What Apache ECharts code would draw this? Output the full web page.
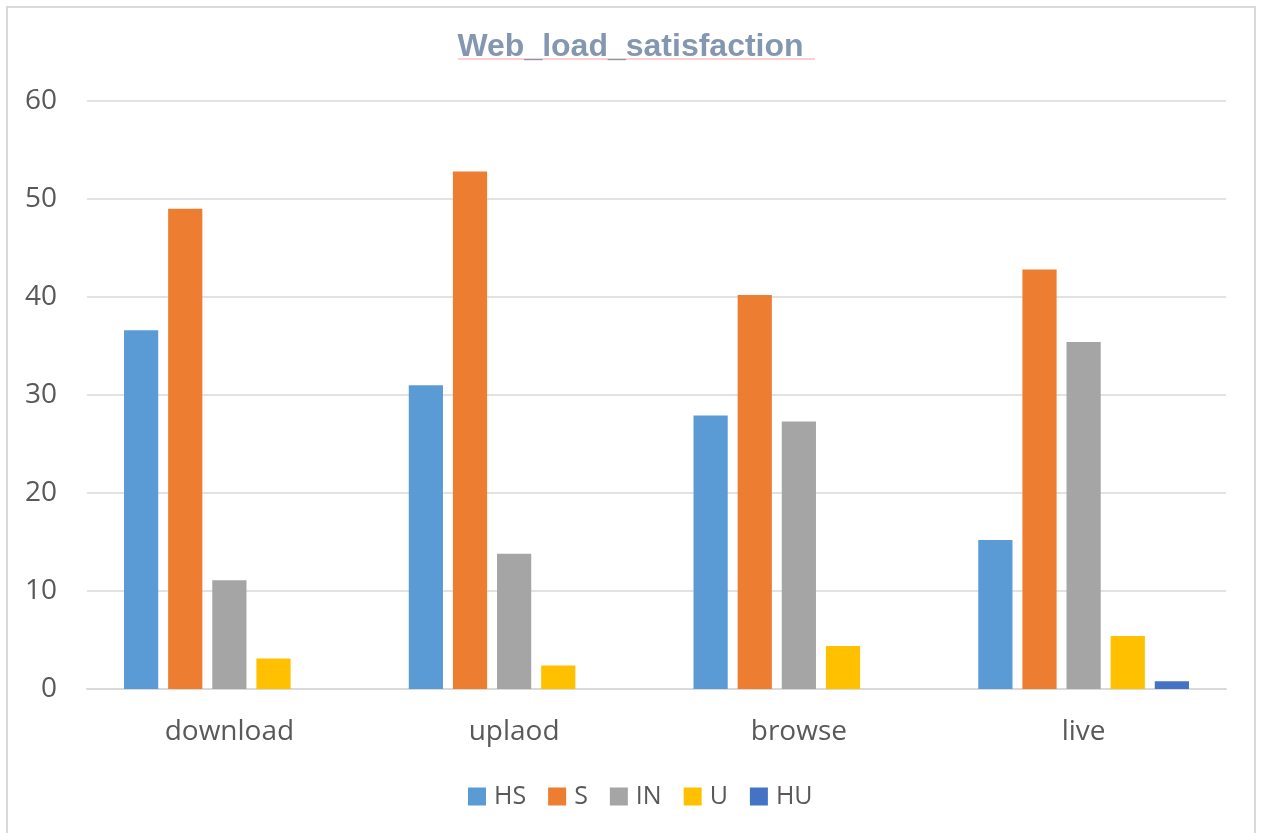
<!DOCTYPE html>
<html>
<head>
<meta charset="utf-8">
<style>
  html, body { margin: 0; padding: 0; background: #ffffff; }
  #chart { width: 1261px; height: 833px; }
</style>
<script src="https://cdn.jsdelivr.net/npm/echarts@6/dist/echarts.min.js"></script>
</head>
<body>
<div id="chart"></div>
<script>
// Satisfaction with web loading, by activity
const categories = ['download', 'uplaod', 'browse', 'live'];
const seriesNames = ['HS', 'S', 'IN', 'U', 'HU'];
const hsValues = [36.6, 31.0, 27.9, 15.2];
const sValues = [49.0, 52.8, 40.2, 42.8];
const inValues = [11.1, 13.8, 27.3, 35.4];
const uValues = [3.1, 2.4, 4.4, 5.4];
const huValues = [0, 0, 0, 0.8];
const yTicks = [0, 10, 20, 30, 40, 50, 60];

const colors = ['#5b9bd5', '#ed7d31', '#a5a5a5', '#ffc000', '#4472c4'];
const valueSets = [hsValues, sValues, inValues, uValues, huValues];
const labelFont = "'Open Sans', 'Noto Sans', sans-serif";

const chart = echarts.init(document.getElementById('chart'), null, { renderer: 'canvas' });

const series = seriesNames.map((name, i) => ({
  name: name,
  type: 'bar',
  data: valueSets[i],
  barGap: '29%',
  barCategoryGap: '26%',
  itemStyle: { color: colors[i] }
}));

chart.setOption({
  animation: false,
  backgroundColor: '#ffffff',
  color: colors,
  title: {
    text: 'Web_load_satisfaction',
    left: 'center',
    top: 26,
    textStyle: {
      fontFamily: "'Liberation Sans', Arial, sans-serif",
      fontWeight: 'bold',
      fontSize: 32,
      color: '#8497b0'
    }
  },
  legend: {
    bottom: 19,
    left: 463,
    itemWidth: 18,
    itemHeight: 18,
    itemGap: 22,
    icon: 'rect',
    textStyle: {
      fontFamily: labelFont,
      fontSize: 25,
      color: '#595959',
      padding: [0, 0, 0, 3]
    },
    data: seriesNames
  },
  grid: { left: 87, right: 35, top: 101, bottom: 144, containLabel: false },
  xAxis: {
    type: 'category',
    data: categories,
    axisLine: { lineStyle: { color: '#d9d9d9', width: 2 } },
    axisTick: { show: false },
    axisLabel: {
      margin: 29,
      fontFamily: labelFont,
      fontSize: 28,
      color: '#595959'
    }
  },
  yAxis: {
    type: 'value',
    min: yTicks[0],
    max: yTicks[yTicks.length - 1],
    interval: 10,
    axisLine: { show: false },
    axisTick: { show: false },
    splitLine: { lineStyle: { color: '#d9d9d9', width: 1.5 } },
    axisLabel: {
      margin: 30,
      fontFamily: labelFont,
      fontSize: 28,
      color: '#595959'
    }
  },
  graphic: [
    {
      type: 'rect',
      shape: { x: 7, y: 7, width: 1248, height: 840 },
      style: { fill: 'none', stroke: '#d9d9d9', lineWidth: 2 },
      silent: true
    },
    {
      type: 'line',
      shape: { x1: 458, y1: 59, x2: 815, y2: 59 },
      style: { stroke: '#f4a0a0', lineWidth: 1 },
      silent: true
    }
  ],
  series: series
});
</script>
</body>
</html>
